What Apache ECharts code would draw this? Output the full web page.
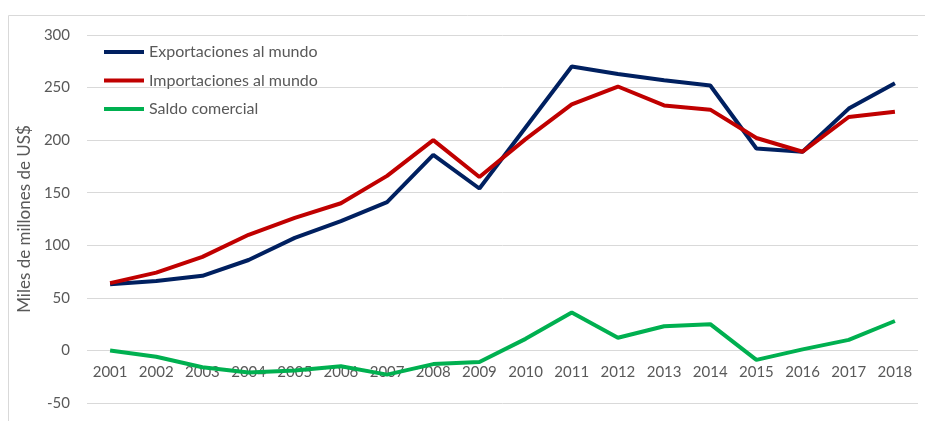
<!DOCTYPE html>
<html>
<head>
<meta charset="utf-8">
<script src="https://cdn.jsdelivr.net/npm/echarts@6/dist/echarts.min.js"></script>
<style>
  html, body { margin: 0; padding: 0; background: #fff; }
  #chart { width: 925px; height: 421px; }
</style>
</head>
<body>
<div id="chart"></div>
<script>
// años
const years = ['2001', '2002', '2003', '2004', '2005', '2006', '2007', '2008', '2009',
  '2010', '2011', '2012', '2013', '2014', '2015', '2016', '2017', '2018']

// miles de millones de US$
const exportaciones = [63, 66, 71, 86, 107, 123, 141, 186, 154, 212, 270, 263, 257, 252, 192, 189, 230, 254]
const importaciones = [64, 74, 89, 110, 126, 140, 166, 200, 165, 201, 234, 251, 233, 229, 202, 189, 222, 227]
const saldo = [0, -6, -16, -21, -19, -15, -23, -13, -11, 11, 36, 12, 23, 25, -9, 1, 10, 28]

const yTicks = { min: -50, max: 300, step: 50 }

const textColor = '#595959'
const gridColor = '#d9d9d9'
const fontFamily = 'Lato, "Open Sans", sans-serif'

const chart = echarts.init(document.getElementById('chart'))

const lineSeries = (name, data, color) => ({
  name,
  type: 'line',
  data,
  symbol: 'none',
  lineStyle: { width: 4, color },
  itemStyle: { color },
  emphasis: { disabled: true }
})

const gridTop = 35
const gridBottom = 18
const plotHeight = 421 - gridTop - gridBottom
// las etiquetas de años van pegadas a la línea del cero
const zeroOffset = plotHeight * (0 - yTicks.min) / (yTicks.max - yTicks.min)

chart.setOption({
  animation: false,
  textStyle: { fontFamily },
  graphic: [{
    type: 'rect',
    shape: { x: 8.5, y: 15.5, width: 930, height: 420 },
    style: { fill: 'none', stroke: gridColor, lineWidth: 1 },
    silent: true
  }],
  legend: {
    orient: 'vertical',
    left: 104,
    top: 42,
    padding: 0,
    icon: 'rect',
    itemWidth: 40,
    itemHeight: 4,
    itemGap: 8.5,
    textStyle: { color: textColor, fontSize: 16, lineHeight: 20, fontFamily },
    data: ['Exportaciones al mundo', 'Importaciones al mundo', 'Saldo comercial']
  },
  grid: { left: 87, right: 7, top: gridTop, bottom: gridBottom, outerBoundsMode: 'none' },
  xAxis: {
    type: 'category',
    data: years,
    boundaryGap: true,
    offset: -zeroOffset,
    axisLine: { show: false },
    axisTick: { show: false },
    axisLabel: { color: textColor, fontSize: 15, margin: 14, interval: 0 }
  },
  yAxis: {
    type: 'value',
    min: yTicks.min,
    max: yTicks.max,
    interval: yTicks.step,
    name: 'Miles de millones de US$',
    nameLocation: 'middle',
    nameGap: 47,
    nameTextStyle: { color: textColor, fontSize: 17 },
    axisLine: { show: false },
    axisTick: { show: false },
    axisLabel: { color: textColor, fontSize: 15, margin: 17 },
    splitLine: { lineStyle: { color: gridColor, width: 1 } }
  },
  series: [
    lineSeries('Exportaciones al mundo', exportaciones, '#002060'),
    lineSeries('Importaciones al mundo', importaciones, '#c00000'),
    lineSeries('Saldo comercial', saldo, '#00b050')
  ]
})
</script>
</body>
</html>
